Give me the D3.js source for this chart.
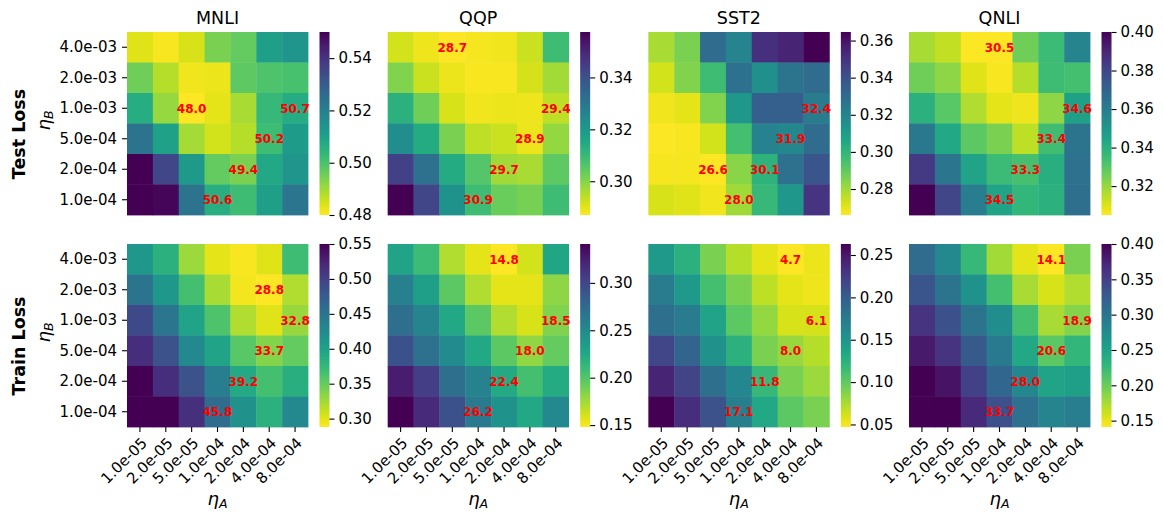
<!DOCTYPE html>
<html>
<head>
<meta charset="utf-8">
<script src="https://cdn.jsdelivr.net/npm/d3@7"></script>
<style>
  body { margin: 0; background: #fff; }
  text { font-family: "DejaVu Sans", sans-serif; fill: #000; }
</style>
</head>
<body>
<svg id="chart" width="1163" height="516"></svg>
<script>
// Learning rates on the two axes
const etaA = ["1.0e-05", "2.0e-05", "5.0e-05", "1.0e-04", "2.0e-04", "4.0e-04", "8.0e-04"];
const etaB = ["4.0e-03", "2.0e-03", "1.0e-03", "5.0e-04", "2.0e-04", "1.0e-04"];
const datasets = ["MNLI", "QQP", "SST2", "QNLI"];
const rowTitles = ["Test Loss", "Train Loss"];

// Cells that carry a value label besides the minimum: [eta_B, eta_A]
const labelledPairs = [["1.0e-04", "1.0e-04"], ["2.0e-04", "2.0e-04"], ["5.0e-04", "4.0e-04"], ["1.0e-03", "8.0e-04"]];

// Loss grids, rows follow etaB, columns follow etaA
const mnliTest = [
  [0.4835, 0.4807, 0.4842, 0.4940, 0.4968, 0.5108, 0.5136],
  [0.4954, 0.4877, 0.4814, 0.4821, 0.4975, 0.4996, 0.5003],
  [0.5066, 0.4912, 0.4800, 0.4828, 0.4891, 0.5031, 0.5070],
  [0.5234, 0.5101, 0.4895, 0.4849, 0.4877, 0.5020, 0.5115],
  [0.5500, 0.5353, 0.5122, 0.4968, 0.4940, 0.5080, 0.5136],
  [0.5500, 0.5490, 0.5234, 0.5060, 0.5017, 0.5108, 0.5227]
];
const qqpTest = [
  [0.2919, 0.2888, 0.2870, 0.2881, 0.2884, 0.2926, 0.3089],
  [0.3004, 0.2926, 0.2891, 0.2877, 0.2877, 0.2916, 0.2969],
  [0.3124, 0.3025, 0.2912, 0.2884, 0.2891, 0.2888, 0.2940],
  [0.3230, 0.3145, 0.3011, 0.2941, 0.2926, 0.2890, 0.2983],
  [0.3441, 0.3314, 0.3145, 0.3060, 0.2970, 0.2962, 0.3046],
  [0.3575, 0.3427, 0.3215, 0.3090, 0.3030, 0.3016, 0.3089]
];
const sst2Test = [
  [0.2788, 0.2857, 0.3301, 0.3202, 0.3508, 0.3547, 0.3646],
  [0.2729, 0.2847, 0.2966, 0.3281, 0.3153, 0.3271, 0.3301],
  [0.2680, 0.2700, 0.2847, 0.3123, 0.3350, 0.3350, 0.3240],
  [0.2665, 0.2670, 0.2729, 0.2956, 0.3212, 0.3190, 0.3301],
  [0.2675, 0.2675, 0.2660, 0.2837, 0.3010, 0.3281, 0.3390],
  [0.2720, 0.2709, 0.2680, 0.2800, 0.2985, 0.3123, 0.3498]
];
const qnliTest = [
  [0.3174, 0.3136, 0.3055, 0.3050, 0.3259, 0.3354, 0.3573],
  [0.3259, 0.3212, 0.3098, 0.3060, 0.3155, 0.3345, 0.3335],
  [0.3392, 0.3297, 0.3164, 0.3088, 0.3074, 0.3212, 0.3460],
  [0.3620, 0.3430, 0.3288, 0.3240, 0.3145, 0.3340, 0.3639],
  [0.3839, 0.3631, 0.3449, 0.3354, 0.3330, 0.3402, 0.3649],
  [0.4000, 0.3800, 0.3601, 0.3450, 0.3373, 0.3392, 0.3658]
];
const mnliTrain = [
  [0.4111, 0.3823, 0.3273, 0.2985, 0.2906, 0.3011, 0.3692],
  [0.4504, 0.4111, 0.3666, 0.3221, 0.2931, 0.2880, 0.3194],
  [0.4924, 0.4478, 0.3980, 0.3614, 0.3194, 0.3011, 0.3280],
  [0.5159, 0.4845, 0.4269, 0.3980, 0.3561, 0.3370, 0.3509],
  [0.5500, 0.5159, 0.4845, 0.4400, 0.3920, 0.3666, 0.3849],
  [0.5500, 0.5490, 0.5133, 0.4580, 0.4190, 0.3823, 0.4269]
];
const qqpTrain = [
  [0.2290, 0.2098, 0.1712, 0.1557, 0.1480, 0.1615, 0.2271],
  [0.2580, 0.2329, 0.1963, 0.1712, 0.1557, 0.1557, 0.1808],
  [0.2715, 0.2542, 0.2252, 0.1963, 0.1712, 0.1596, 0.1850],
  [0.2928, 0.2696, 0.2484, 0.2252, 0.1963, 0.1800, 0.1943],
  [0.3256, 0.3063, 0.2715, 0.2561, 0.2240, 0.2059, 0.2233],
  [0.3410, 0.3178, 0.2928, 0.2620, 0.2426, 0.2252, 0.2503]
];
const sst2Train = [
  [0.1464, 0.1248, 0.0902, 0.0708, 0.0556, 0.0470, 0.0535],
  [0.1744, 0.1464, 0.1118, 0.0902, 0.0686, 0.0556, 0.0524],
  [0.1852, 0.1744, 0.1377, 0.1010, 0.0816, 0.0600, 0.0610],
  [0.2176, 0.1939, 0.1550, 0.1248, 0.0902, 0.0800, 0.0708],
  [0.2414, 0.2198, 0.1852, 0.1636, 0.1180, 0.0902, 0.0794],
  [0.2630, 0.2349, 0.2090, 0.1710, 0.1334, 0.1010, 0.0902]
];
const qnliTrain = [
  [0.3094, 0.2783, 0.2265, 0.1773, 0.1514, 0.1410, 0.1928],
  [0.3327, 0.3016, 0.2679, 0.2187, 0.1747, 0.1566, 0.1721],
  [0.3612, 0.3353, 0.3016, 0.2731, 0.2187, 0.1747, 0.1890],
  [0.3819, 0.3612, 0.3275, 0.2938, 0.2446, 0.2060, 0.2291],
  [0.4000, 0.3870, 0.3508, 0.3145, 0.2800, 0.2498, 0.2550],
  [0.4000, 0.3990, 0.3689, 0.3370, 0.3042, 0.2835, 0.2912]
];

// Colorbar tick values per panel
const mnliTestTicks = [0.48, 0.50, 0.52, 0.54];
const qqpTestTicks = [0.30, 0.32, 0.34];
const sst2TestTicks = [0.28, 0.30, 0.32, 0.34, 0.36];
const qnliTestTicks = [0.32, 0.34, 0.36, 0.38, 0.40];
const mnliTrainTicks = [0.30, 0.35, 0.40, 0.45, 0.50, 0.55];
const qqpTrainTicks = [0.15, 0.20, 0.25, 0.30];
const sst2TrainTicks = [0.05, 0.10, 0.15, 0.20, 0.25];
const qnliTrainTicks = [0.15, 0.20, 0.25, 0.30, 0.35, 0.40];

const grids = [
  [mnliTest, qqpTest, sst2Test, qnliTest],
  [mnliTrain, qqpTrain, sst2Train, qnliTrain]
];
const cbTicks = [
  [mnliTestTicks, qqpTestTicks, sst2TestTicks, qnliTestTicks],
  [mnliTrainTicks, qqpTrainTicks, sst2TrainTicks, qnliTrainTicks]
];

// Layout
const panelLeft = 127, panelStep = 260.67, panelW = 181, panelH = 183;
const panelTops = [32, 244];
const cbOffset = 192.5, cbW = 10;
const tickFont = 15, titleFont = 17.5;

const svg = d3.select("#chart");
svg.append("rect").attr("width", 1163).attr("height", 516).attr("fill", "#fff");
const defs = svg.append("defs");
const fmtCb = d3.format(".2f");
const fmtLabel = d3.format(".1f");

function etaText(sel, sub) {
  sel.append("tspan").attr("font-style", "italic").text("η");
  sel.append("tspan").attr("font-style", "italic").attr("font-size", "0.7em")
    .attr("baseline-shift", "-22%").text(sub);
}

grids.forEach((rowGrids, r) => {
  const top = panelTops[r];
  rowGrids.forEach((grid, c) => {
    const left = panelLeft + c * panelStep;
    const g = svg.append("g").attr("transform", `translate(${left},${top})`);

    const x = d3.scaleBand().domain(etaA).range([0, panelW]).padding(0);
    const y = d3.scaleBand().domain(etaB).range([0, panelH]).padding(0);

    const cells = [];
    grid.forEach((rowVals, i) => rowVals.forEach((v, j) => cells.push({ b: etaB[i], a: etaA[j], v })));
    const [vmin, vmax] = d3.extent(cells, d => d.v);
    const color = d3.scaleSequential(d3.interpolateViridis).domain([vmax, vmin]);

    g.selectAll("rect.cell").data(cells).join("rect")
      .attr("class", "cell")
      .attr("x", d => x(d.a)).attr("y", d => y(d.b))
      .attr("width", x.bandwidth() + 0.4).attr("height", y.bandwidth() + 0.4)
      .attr("fill", d => color(d.v));

    // Value labels: the best cell and the matched-rate cells
    const best = d3.least(cells, d => d.v);
    const labelled = cells.filter(d => d === best || labelledPairs.some(p => p[0] === d.b && p[1] === d.a));
    g.selectAll("text.val").data(labelled).join("text")
      .attr("class", "val")
      .attr("x", d => x(d.a) + x.bandwidth() / 2)
      .attr("y", d => y(d.b) + y.bandwidth() / 2)
      .attr("text-anchor", "middle").attr("dy", "0.36em")
      .attr("font-size", 12).attr("font-weight", "bold")
      .style("fill", "#ff0000")
      .text(d => fmtLabel(d.v * 100));

    // Column titles
    if (r === 0) {
      g.append("text").attr("x", panelW / 2).attr("y", -8)
        .attr("text-anchor", "middle").attr("font-size", titleFont).text(datasets[c]);
    }

    // Y axis on the first column
    if (c === 0) {
      const ya = g.append("g").call(d3.axisLeft(y).tickSize(5).tickPadding(5));
      ya.select(".domain").remove();
      ya.selectAll(".tick line").attr("stroke", "#000").attr("stroke-width", 1.1);
      ya.selectAll(".tick text").attr("font-size", tickFont)
        .attr("font-family", "DejaVu Sans").attr("fill", "#000");
    }

    // X axis on the bottom row
    if (r === 1) {
      const xa = g.append("g").attr("transform", `translate(0,${panelH})`)
        .call(d3.axisBottom(x).tickSize(5).tickPadding(0));
      xa.select(".domain").remove();
      xa.selectAll(".tick line").attr("stroke", "#000").attr("stroke-width", 1.1);
      xa.selectAll(".tick text")
        .attr("font-size", tickFont).attr("font-family", "DejaVu Sans").attr("fill", "#000")
        .attr("text-anchor", "end")
        .attr("y", 0).attr("dy", "0.75em")
        .attr("transform", "translate(0,9) rotate(-45)");
      const lab = g.append("text").attr("x", panelW / 2).attr("y", panelH + 78)
        .attr("text-anchor", "middle").attr("font-size", 18);
      etaText(lab, "A");
    }

    // Colorbar
    const gid = `grad-${r}-${c}`;
    const grad = defs.append("linearGradient").attr("id", gid)
      .attr("x1", 0).attr("y1", 1).attr("x2", 0).attr("y2", 0);
    d3.range(0, 41).forEach(k => {
      const t = k / 40;
      grad.append("stop").attr("offset", t).attr("stop-color", color(vmin + t * (vmax - vmin)));
    });
    const cb = g.append("g").attr("transform", `translate(${cbOffset},0)`);
    cb.append("rect").attr("width", cbW).attr("height", panelH).attr("fill", `url(#${gid})`);
    const cy = d3.scaleLinear().domain([vmin, vmax]).range([panelH, 0]);
    const ca = cb.append("g").attr("transform", `translate(${cbW},0)`)
      .call(d3.axisRight(cy).tickValues(cbTicks[r][c]).tickFormat(fmtCb).tickSize(5).tickPadding(4));
    ca.select(".domain").remove();
    ca.selectAll(".tick line").attr("stroke", "#000").attr("stroke-width", 1.1);
    ca.selectAll(".tick text").attr("font-size", tickFont)
      .attr("font-family", "DejaVu Sans").attr("fill", "#000");
  });

  // Row title and eta_B label
  const mid = top + panelH / 2;
  svg.append("text").attr("transform", `translate(25,${mid + 10.5}) rotate(-90)`)
    .attr("text-anchor", "middle").attr("font-size", titleFont).attr("font-weight", "bold")
    .text(rowTitles[r]);
  const lb = svg.append("text").attr("transform", `translate(49.5,${mid - 3}) rotate(-90)`)
    .attr("text-anchor", "middle").attr("font-size", 18);
  etaText(lb, "B");
});
</script>
</body>
</html>
